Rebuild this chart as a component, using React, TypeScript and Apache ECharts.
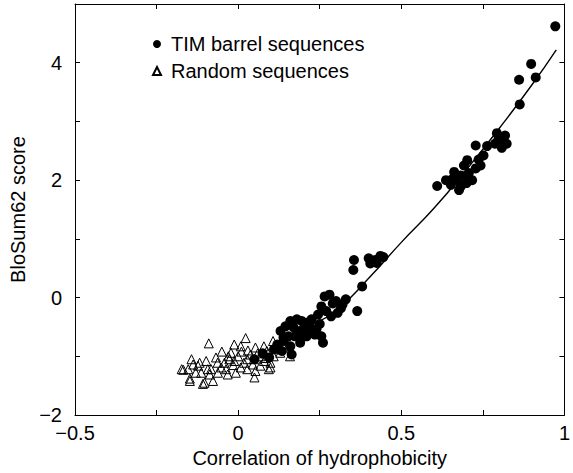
import React, { useEffect, useRef } from "react";
import * as echarts from "echarts";

// TIM barrel sequences (filled circles)
const timX = [
  0.972, 0.898, 0.912, 0.861, 0.863,
  0.793, 0.818, 0.823, 0.808, 0.813, 0.728, 0.763, 0.702, 0.737, 0.743, 0.692, 0.728, 0.662, 0.682,
  0.637, 0.672, 0.717, 0.652, 0.682, 0.677, 0.697, 0.700, 0.610, 0.657, 0.707, 0.752, 0.798, 0.787,
  0.355, 0.353, 0.400, 0.405, 0.436, 0.420, 0.380, 0.365, 0.330, 0.320, 0.265, 0.280, 0.300, 0.255,
  0.270, 0.305, 0.285, 0.245, 0.225, 0.210, 0.195, 0.180, 0.160, 0.145, 0.170, 0.130, 0.190, 0.220,
  0.240, 0.154, 0.174, 0.210, 0.235, 0.255, 0.260, 0.140, 0.120, 0.160, 0.190, 0.164, 0.134, 0.290,
  0.315, 0.250, 0.200, 0.425, 0.445, 0.230, 0.194, 0.139,
  0.050, 0.075, 0.095, 0.110,
];
const timY = [
  4.62, 3.98, 3.75, 3.71, 3.29,
  2.80, 2.76, 2.62, 2.55, 2.68, 2.59, 2.58, 2.34, 2.35, 2.25, 2.25, 2.20, 2.14, 2.08,
  2.00, 2.00, 2.00, 1.92, 1.89, 1.83, 2.06, 1.95, 1.90, 2.02, 2.12, 2.42, 2.70, 2.62,
  0.64, 0.47, 0.67, 0.58, 0.71, 0.64, 0.19, -0.23, -0.03, -0.12, 0.02, 0.05, -0.06, -0.15,
  -0.23, -0.26, -0.32, -0.29, -0.37, -0.43, -0.40, -0.37, -0.40, -0.49, -0.51, -0.57, -0.57, -0.51,
  -0.54, -0.66, -0.66, -0.66, -0.63, -0.66, -0.77, -0.74, -0.80, -0.83, -0.77, -0.97, -0.91, -0.10,
  -0.18, -0.45, -0.55, 0.59, 0.69, -0.57, -0.68, -0.68,
  -1.05, -0.95, -1.02, -0.88,
];

// Random sequences (open triangles)
const randX = [
  -0.090, 0.023, -0.012, 0.008, 0.053, 0.079, 0.107, -0.143, -0.138, -0.168, -0.153, -0.123, -0.098,
  -0.068, -0.063, -0.042, -0.037, -0.022, 0.000, 0.018, 0.038, 0.048, 0.068, 0.088, 0.099, 0.094,
  0.109, 0.129, -0.148, -0.148, -0.103, -0.108, -0.077, -0.032, -0.007, 0.050, 0.053, 0.028, 0.008,
  -0.062, -0.113, -0.087, -0.052, -0.083, 0.068, 0.079, -0.012, 0.028, -0.027, -0.093, -0.118, -0.173,
  0.159, 0.099, 0.030, 0.060, -0.050, 0.115, 0.140, -0.015, 0.010, 0.045, -0.030, 0.085, -0.130,
];
const randY = [
  -0.78, -0.69, -0.80, -0.83, -0.85, -0.83, -0.74, -1.05, -1.14, -1.23, -1.22, -1.16, -1.08,
  -1.02, -1.11, -1.11, -1.22, -0.94, -1.00, -1.11, -0.97, -1.05, -1.00, -0.91, -1.11, -1.22,
  -1.00, -0.94, -1.38, -1.42, -1.45, -1.47, -1.42, -1.31, -1.28, -1.36, -1.25, -1.22, -1.19,
  -1.28, -1.28, -1.31, -1.19, -1.22, -1.16, -1.08, -1.08, -1.05, -1.05, -1.22, -1.11, -1.22,
  -1.00, -1.19, -0.90, -0.95, -0.92, -0.88, -0.85, -1.15, -0.92, -1.14, -1.00, -1.03, -1.28,
];

// Fitted curve
const fitX = [0.1, 0.2, 0.3, 0.4, 0.5, 0.6, 0.7, 0.8, 0.9, 0.975];
const fitY = [-0.88, -0.55, -0.22, 0.33, 0.94, 1.52, 2.18, 2.88, 3.62, 4.22];

const xLabels: Record<string, string> = { "-0.5": "\u22120.5", "0": "0", "0.5": "0.5", "1": "1" };
const yLabels: Record<string, string> = { "-2": "\u22122", "0": "0", "2": "2", "4": "4" };

const FONT = "Liberation Sans, Arial, sans-serif";

export default function App() {
  const ref = useRef<HTMLDivElement>(null);
  useEffect(() => {
    if (!ref.current) return;
    const chart = echarts.init(ref.current, undefined, { renderer: "svg" });
    const axisLine = { show: true, onZero: false, lineStyle: { color: "#000", width: 1 } };
    const axisTick = { show: true, inside: true, length: 5, lineStyle: { color: "#000", width: 1 } };
    chart.setOption({
      animation: false,
      backgroundColor: "#fff",
      grid: { left: 75, right: 1, top: 4, bottom: 57 },
      legend: {
        orient: "vertical",
        left: 147,
        top: 29,
        itemWidth: 8,
        itemHeight: 8,
        itemGap: 7,
        textStyle: { fontSize: 20, fontFamily: FONT, color: "#000", padding: [0, 0, 0, 5] },
        data: ["TIM barrel sequences", "Random sequences"],
      },
      xAxis: [
        {
          type: "value",
          min: -0.5,
          max: 1,
          interval: 0.25,
          position: "bottom",
          name: "Correlation of hydrophobicity",
          nameLocation: "middle",
          nameGap: 33,
          nameTextStyle: { fontSize: 20, fontFamily: FONT, color: "#000" },
          axisLine,
          axisTick,
          splitLine: { show: false },
          axisLabel: {
            fontSize: 20,
            fontFamily: FONT,
            color: "#000",
            margin: 8,
            formatter: (v: number) => xLabels[String(v)] ?? "",
          },
        },
        {
          type: "value",
          min: -0.5,
          max: 1,
          interval: 0.25,
          position: "top",
          axisLine,
          axisTick,
          splitLine: { show: false },
          axisLabel: { show: false },
        },
      ],
      yAxis: [
        {
          type: "value",
          min: -2,
          max: 5,
          interval: 1,
          position: "left",
          name: "BloSum62 score",
          nameLocation: "middle",
          nameGap: 47,
          nameTextStyle: { fontSize: 20, fontFamily: FONT, color: "#000" },
          axisLine,
          axisTick,
          splitLine: { show: false },
          axisLabel: {
            fontSize: 20,
            fontFamily: FONT,
            color: "#000",
            margin: 13,
            formatter: (v: number) => yLabels[String(v)] ?? "",
          },
        },
        {
          type: "value",
          min: -2,
          max: 5,
          interval: 1,
          position: "right",
          axisLine,
          axisTick,
          splitLine: { show: false },
          axisLabel: { show: false },
        },
      ],
      series: [
        {
          name: "Random sequences",
          type: "scatter",
          symbol: "triangle",
          symbolSize: 9,
          itemStyle: { color: "rgba(0,0,0,0)", borderColor: "#000", borderWidth: 1, opacity: 1 },
          data: randX.map((x, i) => [x, randY[i]]),
        },
        {
          name: "TIM barrel sequences",
          type: "scatter",
          symbol: "circle",
          symbolSize: 10,
          itemStyle: { color: "#000", borderWidth: 0, opacity: 1 },
          data: timX.map((x, i) => [x, timY[i]]),
        },
        {
          name: "fit",
          type: "line",
          smooth: true,
          showSymbol: false,
          symbol: "none",
          lineStyle: { color: "#000", width: 1.4 },
          data: fitX.map((x, i) => [x, fitY[i]]),
        },
      ],
    });
    return () => chart.dispose();
  }, []);
  return (
    <div
      ref={ref}
      style={{ position: "fixed", left: 0, top: 0, width: 573, height: 473 }}
    />
  );
}
